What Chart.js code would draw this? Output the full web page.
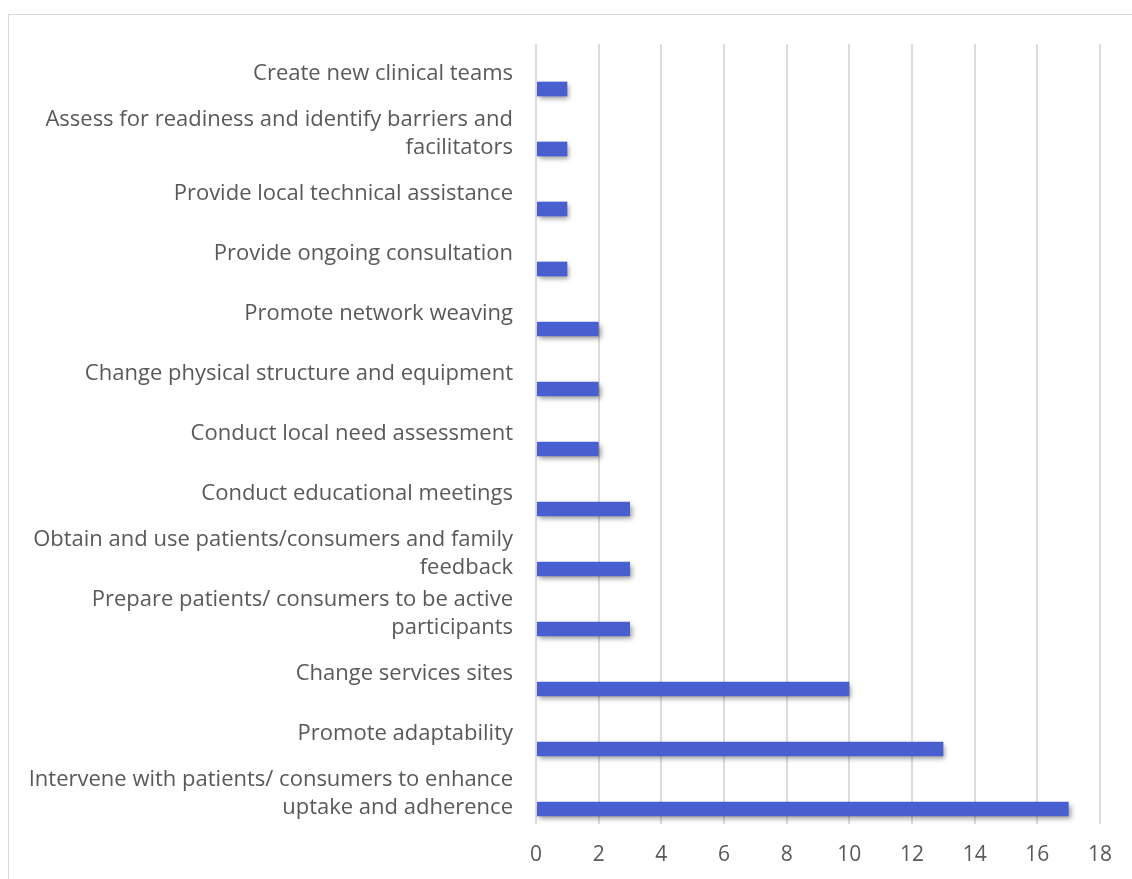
<!DOCTYPE html>
<html>
<head>
<meta charset="utf-8">
<script src="https://cdn.jsdelivr.net/npm/chart.js@4.4.1/dist/chart.umd.min.js"></script>
<style>
  html, body { margin: 0; padding: 0; background: #fff; overflow: hidden; }
  #frame { position: absolute; left: 8px; top: 14px; width: 1140px; height: 880px; border: 1px solid #d9d9d9; box-sizing: border-box; }
  #wrap { position: absolute; left: 0; top: 0; width: 1132px; height: 879px; }
</style>
</head>
<body>
<div id="frame"></div>
<div id="wrap"><canvas id="main-chart"></canvas></div>
<script>
// --- データ ---
const categories = [
    'Create new clinical teams',
    ['Assess for readiness and identify barriers and', 'facilitators'],
    'Provide local technical assistance',
    'Provide ongoing consultation',
    'Promote network weaving',
    'Change physical structure and equipment',
    'Conduct local need assessment',
    'Conduct educational meetings',
    ['Obtain and use patients/consumers and family', 'feedback'],
    ['Prepare patients/ consumers to be active', 'participants'],
    'Change services sites',
    'Promote adaptability',
    ['Intervene with patients/ consumers to enhance', 'uptake and adherence']
];
const counts = [1, 1, 1, 1, 2, 2, 2, 3, 3, 3, 10, 13, 17];
const xTicks = [0, 2, 4, 6, 8, 10, 12, 14, 16, 18];

const TEXT = '#595959';
const GRID = '#dcdcdc';

// バーの影
const shadowPlugin = {
    id: 'barShadow',
    beforeDatasetsDraw(chart) {
        const c = chart.ctx;
        c.save();
        c.shadowColor = 'rgba(0,0,0,0.4)';
        c.shadowBlur = 5;
        c.shadowOffsetX = 2;
        c.shadowOffsetY = 3;
    },
    afterDatasetsDraw(chart) {
        chart.ctx.restore();
    }
};

function barGradient(context) {
    const el = context.element;
    const c = context.chart.ctx;
    if (!el || el.y === undefined) return '#4a5fcf';
    const h = el.height || 14;
    const g = c.createLinearGradient(0, el.y - h / 2, 0, el.y + h / 2);
    g.addColorStop(0, '#6a7ddf');
    g.addColorStop(1, '#374bc1');
    return g;
}

Chart.defaults.font.family = "'Open Sans','Noto Sans',sans-serif";
Chart.defaults.font.size = 20;
Chart.defaults.color = TEXT;

new Chart(document.getElementById('main-chart'), {
    type: 'bar',
    data: {
        labels: categories,
        datasets: [
            {
                // Excel の空系列ぶんのスペース
                label: '',
                data: categories.map(() => null),
                backgroundColor: 'rgba(0,0,0,0)'
            },
            {
                label: 'Count',
                data: counts,
                backgroundColor: barGradient,
                borderWidth: 0
            }
        ]
    },
    options: {
        indexAxis: 'y',
        responsive: true,
        maintainAspectRatio: false,
        animation: false,
        datasets: { bar: { categoryPercentage: 1.0, barPercentage: 0.49 } },
        layout: { padding: { left: 0, right: 32, top: 44, bottom: 0 } },
        plugins: {
            legend: { display: false },
            tooltip: { enabled: false }
        },
        scales: {
            x: {
                min: 0, max: 18,
                afterBuildTicks: s => { s.ticks = xTicks.map(v => ({ value: v })); },
                afterFit: s => { s.height = 55; },
                ticks: { color: TEXT, padding: 18, font: { size: 21 } },
                grid: { color: GRID, lineWidth: 2, drawTicks: false },
                border: { display: false }
            },
            y: {
                afterFit: s => { s.width = 536; s.paddingTop = 0; s.paddingBottom = 0; },
                ticks: { color: TEXT, padding: 23, font: { size: 22, lineHeight: 1.27 }, autoSkip: false },
                grid: { display: false, drawTicks: false },
                border: { display: false }
            }
        }
    },
    plugins: [shadowPlugin]
});
</script>
</body>
</html>
